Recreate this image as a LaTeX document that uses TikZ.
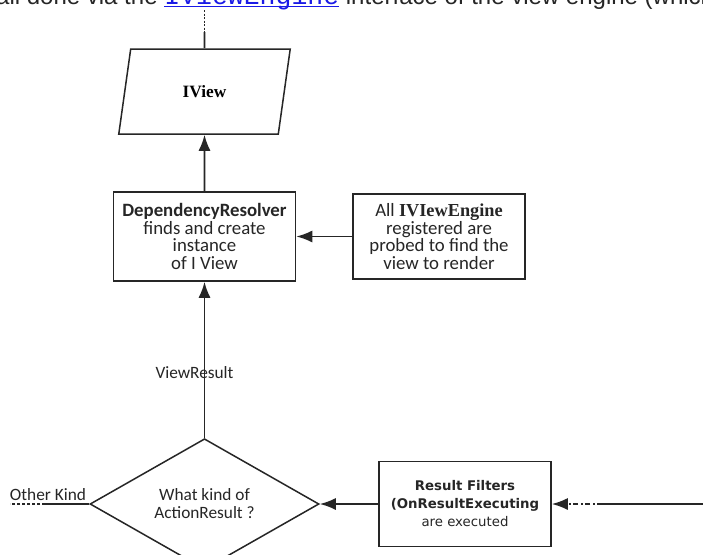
\documentclass[tikz,border=0pt]{standalone}
\usepackage{fontspec}
\setmainfont{Carlito}
\newfontfamily\titlefont{Liberation Serif}
\newfontfamily\filterfont{DejaVu Sans}
\newfontfamily\pagefont{Liberation Sans}
\setmonofont{Liberation Mono}
\usetikzlibrary{arrows.meta,shapes.geometric}
\definecolor{linegray}{HTML}{262626}
\definecolor{linkblue}{HTML}{1A1AE6}
\tikzset{
  box/.style={draw=linegray,line width=1.5pt,align=center,inner sep=0pt,text=black!85,
    font=\fontsize{18.8}{17.6}\selectfont},
  flow/.style={draw=linegray,line width=1.8pt},
  >={Latex[length=16pt,width=12pt]}
}

\begin{document}
\begin{tikzpicture}[x=1pt,y=-1pt]
\useasboundingbox (0,0) rectangle (703,554);
\clip (0,0) rectangle (703,554);
\fill[white] (0,0) rectangle (703,554);

% text of the page above the figure
\node[anchor=base west,inner sep=0pt,text=black!85,font=\pagefont\fontsize{24}{24}\selectfont] (pagetext) at (-4,5)
  {all done via the \textcolor{linkblue}{\underline{\smash{\ttfamily\fontsize{26.5}{26.5}\selectfont IViewEngine}}} interface of the view engine (which};

\node[draw=linegray,line width=1.5pt,trapezium,trapezium left angle=74,trapezium right angle=106,
  trapezium stretches=true,minimum width=172pt,minimum height=85pt,inner sep=0pt,
  font=\titlefont\bfseries\fontsize{17.3}{17.3}\selectfont] (iview) at (204.5,91.5) {IView};
\node[box,minimum width=182pt,minimum height=89pt] (resolver) at (204.5,236.5)
  {\textbf{DependencyResolver}\\finds and create\\instance\\of I View};
\node[box,minimum width=172pt,minimum height=85pt] (engines) at (439,236.5)
  {All {\titlefont\bfseries\fontsize{18.3}{17.6}\selectfont IVIewEngine}\\registered are\\probed to find the\\view to render};
\node[box,diamond,minimum width=229pt,minimum height=110pt,font=\fontsize{17.3}{18}\selectfont] (kind) at (204.5,504)
  {What kind of\\ActionResult ?};
\node[box,minimum width=172pt,minimum height=85pt,font=\filterfont\fontsize{13.3}{18}\selectfont] (filters) at (465,504)
  {\textbf{Result Filters}\\\textbf{(OnResultExecuting}\\are executed};
\node[anchor=base,inner sep=0pt,text=black!85,font=\fontsize{17.3}{17.3}\selectfont] (otherkind) at (48,500) {Other Kind};

\coordinate (topin) at (204.5,10);
\coordinate (topjoin) at (204.5,32);
\coordinate (otherend) at (10,504);
\coordinate (otherjoin) at (45,504);
\coordinate (inflow) at (703,504);
\coordinate (injoin) at (602,504);

\draw[flow,dash pattern=on 2pt off 1.5pt] (topin) -- (topjoin);
\draw[flow] (topjoin) -- (iview.north);
\draw[flow,->] (resolver) -- (iview.south);
\draw[flow,->] (engines) -- (resolver);
\draw[flow,->] (kind) -- node[pos=0.42,xshift=-10pt,text=black!85,font=\fontsize{17.3}{17.3}\selectfont] {ViewResult} (resolver);
\draw[flow,->] (filters) -- (kind.east);
\draw[flow] (inflow) -- (injoin);
\draw[flow,->,dash pattern=on 5pt off 2.5pt on 2pt off 2.5pt] (injoin) -- (filters.east);
\draw[flow] (kind.west) -- (otherjoin);
\draw[flow,dash pattern=on 3pt off 2pt] (otherjoin) -- (otherend);

\end{tikzpicture}
\end{document}
